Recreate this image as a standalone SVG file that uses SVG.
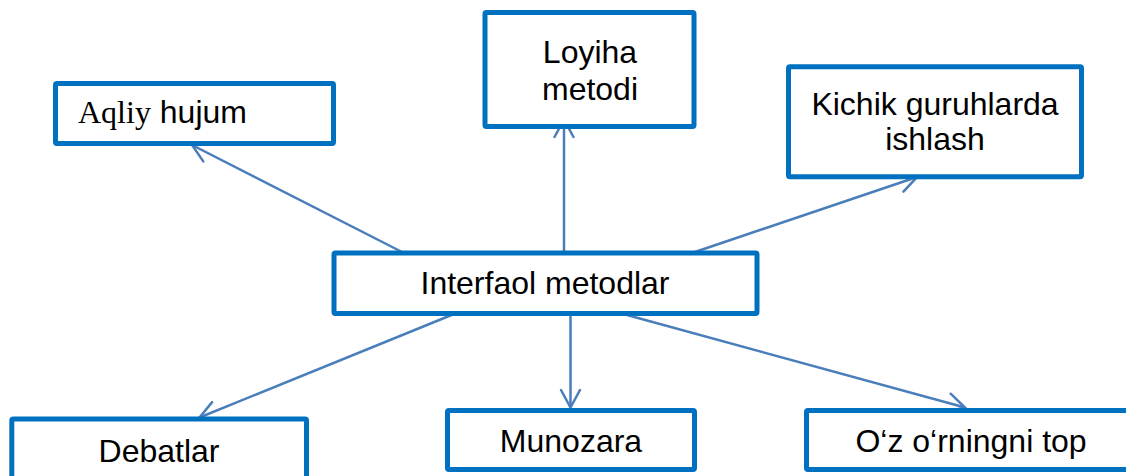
<svg xmlns="http://www.w3.org/2000/svg" width="1126" height="476" viewBox="0 0 1126 476">
  <style>
    .box { fill: #ffffff; stroke: #0070C0; stroke-width: 5; }
    .lbl { font-family: "Liberation Sans", Arial, sans-serif; font-size: 32px; fill: #000000; text-anchor: middle; }
    .serif { font-family: "Liberation Serif", "Times New Roman", serif; }
    .link { fill: none; stroke: #4A7EBB; stroke-width: 2.5; marker-end: url(#head); }
  </style>
  <defs>
    <marker id="head" markerUnits="userSpaceOnUse" markerWidth="40" markerHeight="40" viewBox="-20 -20 40 40" refX="0" refY="0" orient="auto" overflow="visible">
      <path d="M -17.5 -9.5 L 0 0 L -17.5 9.5" fill="none" stroke="#4A7EBB" stroke-width="2.5" stroke-linecap="round" stroke-linejoin="miter"/>
    </marker>
  </defs>

  <rect width="1126" height="476" fill="#ffffff"/>

  <!-- connectors from the central node -->
  <g id="connectors">
    <line class="link" x1="402" y1="252" x2="192" y2="145"/>
    <line class="link" x1="564" y1="252" x2="564" y2="119.5"/>
    <line class="link" x1="695" y1="252" x2="917" y2="177"/>
    <line class="link" x1="454" y1="314" x2="199.5" y2="417.5"/>
    <line class="link" x1="570.5" y1="315" x2="570.5" y2="407.5"/>
    <line class="link" x1="627" y1="315" x2="965" y2="407.5"/>
  </g>

  <g id="node-center">
    <rect class="box" x="334" y="253" width="423" height="60.5" rx="1.5"/>
    <text class="lbl" x="545" y="294">Interfaol metodlar</text>
  </g>

  <g id="node-aqliy">
    <rect class="box" x="55.5" y="83.5" width="278" height="60" rx="1.5"/>
    <text class="lbl" x="78" y="123" style="text-anchor:start"><tspan class="serif">Aqliy</tspan> hujum</text>
  </g>

  <g id="node-loyiha">
    <rect class="box" x="485" y="12.5" width="209" height="114" rx="1.5"/>
    <text class="lbl" x="590" y="63">Loyiha</text>
    <text class="lbl" x="590" y="100">metodi</text>
  </g>

  <g id="node-kichik">
    <rect class="box" x="788.5" y="66.8" width="293" height="110" rx="1.5"/>
    <text class="lbl" x="935" y="115">Kichik guruhlarda</text>
    <text class="lbl" x="935" y="150">ishlash</text>
  </g>

  <g id="node-debatlar">
    <rect class="box" x="11.8" y="419" width="294.7" height="100" rx="1.5"/>
    <text class="lbl" x="159" y="462">Debatlar</text>
  </g>

  <g id="node-munozara">
    <rect class="box" x="447.5" y="410.5" width="247" height="59" rx="1.5"/>
    <text class="lbl" x="571" y="452">Munozara</text>
  </g>

  <g id="node-orningni">
    <rect class="box" x="806.5" y="410.5" width="330" height="59" rx="1.5"/>
    <text class="lbl" x="971" y="452">O‘z o‘rningni top</text>
  </g>
</svg>
